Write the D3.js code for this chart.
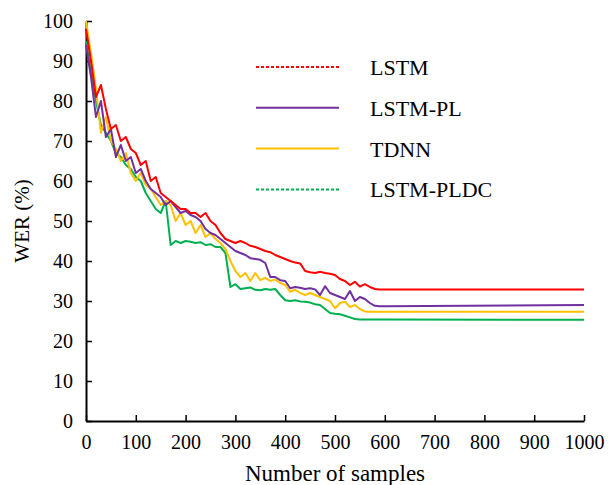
<!DOCTYPE html>
<html>
<head>
<meta charset="utf-8">
<script src="https://cdn.jsdelivr.net/npm/d3@7/dist/d3.min.js"></script>
<style>
  body { margin: 0; background: #fff; }
</style>
</head>
<body>
<div id="chart"></div>
<script>
// sample positions shared by all series
const samples = [0,10,20,30,40,50,60,70,80,90,100,110,120,130,140,150,160,170,180,190,
  200,210,220,230,240,250,260,270,280,290,300,310,320,330,340,350,360,370,380,390,
  400,410,420,430,440,450,460,470,480,490,500,510,520,530,540,550,560,570,580,590,600,1000];

const lstm = [98,90,81,84,78,73,74,70,71,68,67,64,65,60,61,57,56,55,54,53,
  53,52,52,51,52,50,49,47,45.5,45,44.5,45,44.5,43.8,43.5,43,42.5,42.2,41.5,41,
  40.5,40,39.6,39.4,37.5,37.2,37,37.3,37,36.8,36.5,35.5,35,34,34.8,33.6,34.2,33.5,33,32.9,32.9,32.9];

const lstmPl = [94,86,76,80,71,73,66,69,65,66,62,63,60,58,57,56,54,55,53.5,52,
  52.5,51.5,51,50,48,47,46.5,45.5,44.5,43.5,42.5,42,41.5,40.7,40.5,40.3,39.5,36,36,35.2,
  35,33.2,33.5,33.3,33,33.2,32.9,31.5,33.7,32,31.5,31,30.5,32.5,30,31,30.5,29.5,28.8,28.7,28.7,29];

const tdnn = [100,92,83,72,76,70,68,65,67,62,60,62,59,58,56,54,55,54,50,52,
  49,50,47,49,46,47,45.5,44.5,43,40,37.5,36,37,35,37,35.2,35.8,35,35.4,34.5,
  34,32.3,32.8,32,31.5,32,31.5,31,30.5,30,28.2,29.5,29.8,28.5,29,28,27.4,27.3,27.3,27.3,27.3,27.3];

const lstmPldc = [95,87,80,74,72,70,67,66,64,63,61,60,57,55,53,52,55,44,45,44.5,
  45,44.8,44.5,44.7,44,44.2,43.5,43.5,42,33.5,34.2,33,33.2,33.4,32.8,32.7,33,32.8,33,31.5,
  30.2,30,30.2,29.9,29.8,29.6,29.2,29,28,27,26.8,26.7,26.3,25.9,25.5,25.4,25.4,25.4,25.4,25.4,25.4,25.3];

const seriesNames = ["LSTM", "LSTM-PL", "TDNN", "LSTM-PLDC"];
const seriesColors = ["#ff0000", "#7030a0", "#ffc000", "#00b050"];
const legendDash = ["3,2", null, null, "3,2"];
const xTicks = [0,100,200,300,400,500,600,700,800,900,1000];
const yTicks = [0,10,20,30,40,50,60,70,80,90,100];

const serif = "Liberation Serif";
const width = 609, height = 485;
const margin = {top: 21, right: 25, bottom: 64, left: 86};

const svg = d3.select("#chart").append("svg")
  .attr("width", width)
  .attr("height", height)
  .style("font-family", serif);

const x = d3.scaleLinear().domain([0, 1000]).range([margin.left, width - margin.right]);
const y = d3.scaleLinear().domain([0, 100]).range([height - margin.bottom, margin.top]);

// axes, ticks pointing inward
const xAxis = svg.append("g")
  .attr("transform", `translate(0,${y(0)})`)
  .call(d3.axisBottom(x).tickValues(xTicks).tickFormat(d3.format("d"))
    .tickSize(-6).tickPadding(14).tickSizeOuter(0));
const yAxis = svg.append("g")
  .attr("transform", `translate(${x(0)},0)`)
  .call(d3.axisLeft(y).tickValues(yTicks).tickFormat(d3.format("d"))
    .tickSize(-6).tickPadding(13).tickSizeOuter(0));

[xAxis, yAxis].forEach(a => {
  a.attr("font-family", null);
  a.select(".domain").attr("stroke", "#000").attr("stroke-width", 2);
  a.selectAll(".tick line").attr("stroke", "#000").attr("stroke-width", 1.5);
  a.selectAll("text")
    .style("font-family", serif)
    .style("font-size", "20px")
    .attr("fill", "#000");
});
xAxis.selectAll("text").attr("dy", "0.71em");

// axis titles
svg.append("text")
  .attr("x", (x(0) + x(1000)) / 2)
  .attr("y", 481)
  .attr("text-anchor", "middle")
  .style("font-family", serif)
  .style("font-size", "23px")
  .text("Number of samples");

svg.append("text")
  .attr("transform", `translate(29,${y(50)}) rotate(-90)`)
  .attr("text-anchor", "middle")
  .style("font-family", serif)
  .style("font-size", "21px")
  .text("WER (%)");

// lines
const allSeries = [lstm, lstmPl, tdnn, lstmPldc];
const line = d3.line()
  .x((d, i) => x(samples[i]))
  .y(d => y(d));

// draw green first so red sits on top
[3, 2, 1, 0].forEach(k => {
  svg.append("path")
    .datum(allSeries[k])
    .attr("fill", "none")
    .attr("stroke", seriesColors[k])
    .attr("stroke-width", 2)
    .attr("stroke-linejoin", "round")
    .attr("d", line);
});

// legend
const legend = svg.append("g");
seriesNames.forEach((name, i) => {
  const ly = 67 + i * 40.8;
  legend.append("line")
    .attr("x1", 256).attr("x2", 339)
    .attr("y1", ly).attr("y2", ly)
    .attr("stroke", seriesColors[i])
    .attr("stroke-width", 2)
    .attr("stroke-dasharray", legendDash[i]);
  legend.append("text")
    .attr("x", 370)
    .attr("y", ly + 8)
    .style("font-family", serif)
    .style("font-size", "22px")
    .text(name);
});
</script>
</body>
</html>
